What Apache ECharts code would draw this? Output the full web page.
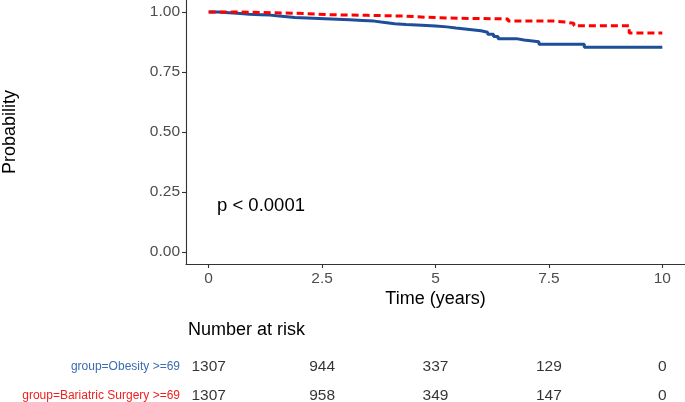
<!DOCTYPE html>
<html>
<head>
<meta charset="utf-8">
<script src="https://cdn.jsdelivr.net/npm/echarts@6/dist/echarts.min.js"></script>
<style>
html,body{margin:0;padding:0;background:#fff;}
#chart{width:685px;height:402px;}
</style>
</head>
<body>
<div id="chart"></div>
<script>
// ---- data ----
const groups = ['group=Obesity >=69', 'group=Bariatric Surgery >=69'];
const obesityTimes = [0, 0.2, 0.45, 0.7, 0.9, 1.15, 1.35, 1.5, 1.9, 2.3, 2.7, 3.1, 3.4, 3.65, 3.8, 4.1, 4.35, 4.7, 5.0, 5.25, 5.45, 5.75, 6.0, 6.15, 6.28, 6.38, 6.78, 6.95, 7.28, 8.28, 10.0];
const obesitySurv  = [1.0, 0.997, 0.994, 0.991, 0.989, 0.987, 0.984, 0.977, 0.974, 0.971, 0.968, 0.965, 0.962, 0.958, 0.951, 0.948, 0.945, 0.942, 0.938, 0.933, 0.927, 0.922, 0.916, 0.907, 0.898, 0.889, 0.883, 0.876, 0.866, 0.853, 0.853];
const surgeryTimes = [0, 0.6, 1.2, 1.6, 2.2, 2.6, 3.5, 4.3, 4.8, 5.5, 6.6, 7.65, 7.85, 8.05, 9.27, 10.0];
const surgerySurv  = [1.0, 0.998, 0.996, 0.993, 0.989, 0.986, 0.983, 0.978, 0.974, 0.971, 0.962, 0.958, 0.953, 0.943, 0.912, 0.912];
const xTicks = [0, 2.5, 5, 7.5, 10];
const yTicks = [0, 0.25, 0.5, 0.75, 1];
const riskTimes = [0, 2.5, 5, 7.5, 10];
const riskObesity = [1307, 944, 337, 129, 0];
const riskSurgery = [1307, 958, 349, 147, 0];
const pText = 'p < 0.0001';

// ---- styles ----
const FONT = '"Liberation Sans", Arial, Helvetica, sans-serif';
const BLUE = '#1F4E99';
const RED = '#FF0000';
const GREY = '#4D4D4D';

const blueData = obesityTimes.map((t, i) => [t, obesitySurv[i]]);
const redData = surgeryTimes.map((t, i) => [t, surgerySurv[i]]);
const riskData = [];
riskTimes.forEach((t, i) => { riskData.push([t, 0, riskObesity[i]]); });
riskTimes.forEach((t, i) => { riskData.push([t, 1, riskSurgery[i]]); });

const chart = echarts.init(document.getElementById('chart'), null, {renderer: 'canvas'});
chart.setOption({
  animation: false,
  backgroundColor: '#ffffff',
  textStyle: {fontFamily: FONT},
  grid: [
    {left: 186, width: 499, top: 0, height: 264, containLabel: false},
    {left: 186, width: 499, top: 366.5, height: 29, containLabel: false}
  ],
  xAxis: [
    {
      gridIndex: 0, type: 'value', min: -0.5, max: 10.5,
      axisLine: {show: true, onZero: false, lineStyle: {color: '#333333', width: 1.1}},
      axisTick: {show: true, length: 4, customValues: xTicks, lineStyle: {color: '#333333', width: 1.1}},
      axisLabel: {show: true, customValues: xTicks, margin: 7, color: GREY, fontSize: 15.5, fontFamily: FONT,
                  formatter: v => String(v)},
      splitLine: {show: false}
    },
    {
      gridIndex: 1, type: 'value', min: -0.5, max: 10.5, show: false
    }
  ],
  yAxis: [
    {
      gridIndex: 0, type: 'value', min: -0.05, max: 1.05,
      axisLine: {show: true, onZero: false, lineStyle: {color: '#333333', width: 1.1}},
      axisTick: {show: true, length: 4, customValues: yTicks, lineStyle: {color: '#333333', width: 1.1}},
      axisLabel: {show: true, customValues: yTicks, margin: 6, color: GREY, fontSize: 15.5, fontFamily: FONT,
                  formatter: v => v.toFixed(2)},
      splitLine: {show: false}
    },
    {
      gridIndex: 1, type: 'category', data: groups, inverse: true, boundaryGap: false,
      axisLine: {show: false}, axisTick: {show: false}, splitLine: {show: false},
      axisLabel: {
        margin: 6, fontSize: 12, fontFamily: FONT,
        formatter: (v, i) => (i === 0 ? '{b|' + v + '}' : '{r|' + v + '}'),
        rich: {
          b: {color: '#3B6DB0', fontSize: 12, fontFamily: FONT},
          r: {color: '#F02020', fontSize: 12, fontFamily: FONT}
        }
      }
    }
  ],
  series: [
    {
      name: groups[0], type: 'line', xAxisIndex: 0, yAxisIndex: 0, step: 'end',
      data: blueData, showSymbol: false, symbol: 'none', z: 3,
      lineStyle: {color: BLUE, width: 3, type: 'solid'}
    },
    {
      name: groups[1], type: 'line', xAxisIndex: 0, yAxisIndex: 0, step: 'end',
      data: redData, showSymbol: false, symbol: 'none', z: 4,
      lineStyle: {color: RED, width: 3, type: [7, 4]}
    },
    {
      type: 'scatter', xAxisIndex: 1, yAxisIndex: 1, data: riskData,
      symbolSize: 1, itemStyle: {color: 'rgba(0,0,0,0)'},
      label: {show: true, position: 'inside', color: '#000', fontSize: 15.5, fontFamily: FONT,
              formatter: p => String(p.value[2])}
    }
  ],
  graphic: [
    {type: 'text', x: 10, y: 132, rotation: Math.PI / 2,
     style: {text: 'Probability', font: '18px ' + FONT, fill: '#000', textAlign: 'center', textVerticalAlign: 'middle'}},
    {type: 'text', x: 435.5, y: 299,
     style: {text: 'Time (years)', font: '18px ' + FONT, fill: '#000', textAlign: 'center', textVerticalAlign: 'middle'}},
    {type: 'text', x: 217, y: 206,
     style: {text: pText, font: '18.5px ' + FONT, fill: '#000', textAlign: 'left', textVerticalAlign: 'middle'}},
    {type: 'text', x: 188, y: 330,
     style: {text: 'Number at risk', font: '18px ' + FONT, fill: '#000', textAlign: 'left', textVerticalAlign: 'middle'}}
  ]
});
</script>
</body>
</html>
